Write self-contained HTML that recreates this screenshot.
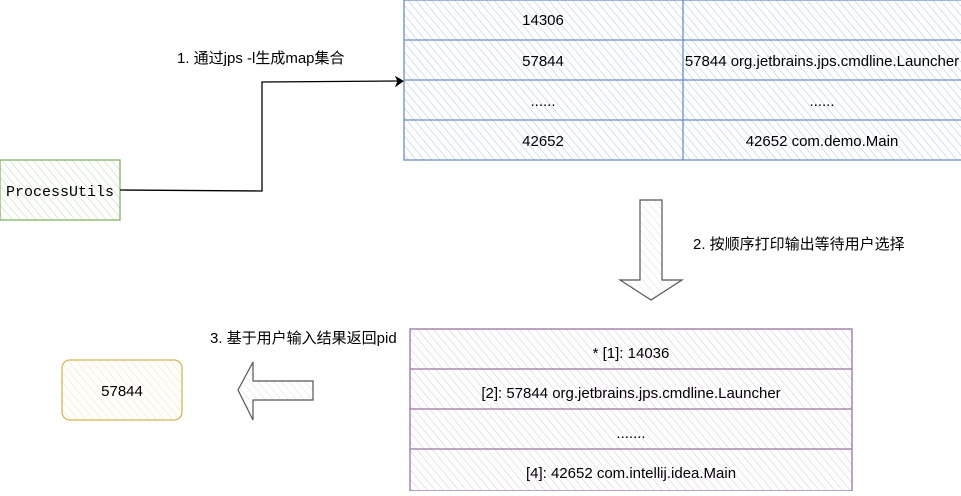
<!DOCTYPE html>
<html><head><meta charset="utf-8"><style>
body{margin:0;background:#fff;width:961px;height:491px;overflow:hidden}
svg text{font-family:"Liberation Sans","Noto Sans CJK SC",sans-serif;font-size:15px;fill:#000}
</style></head><body>
<svg width="961" height="491" xmlns="http://www.w3.org/2000/svg">
<defs>
<pattern id="hb" width="6" height="6" patternUnits="userSpaceOnUse" patternTransform="rotate(-40)"><line x1="0" y1="0" x2="0" y2="6" stroke="#a9c4eb" stroke-width="1"/></pattern>
<pattern id="hg" width="6" height="6" patternUnits="userSpaceOnUse" patternTransform="rotate(-40)"><line x1="0" y1="0" x2="0" y2="6" stroke="#b9e0a5" stroke-width="1"/></pattern>
<pattern id="hp" width="6" height="6" patternUnits="userSpaceOnUse" patternTransform="rotate(-40)"><line x1="0" y1="0" x2="0" y2="6" stroke="#d5c8e0" stroke-width="1"/></pattern>
<pattern id="hy" width="6" height="6" patternUnits="userSpaceOnUse" patternTransform="rotate(-40)"><line x1="0" y1="0" x2="0" y2="6" stroke="#f7e0a0" stroke-width="1"/></pattern>
<pattern id="hw" width="6" height="6" patternUnits="userSpaceOnUse" patternTransform="rotate(-40)"><line x1="0" y1="0" x2="0" y2="6" stroke="#ddd" stroke-width="1"/></pattern>
</defs>
<rect x="404" y="0" width="560" height="160" fill="url(#hb)" stroke="#6c8ebf" stroke-width="1.3"/>
<g stroke="#6c8ebf" stroke-width="1.3"><line x1="404" y1="40" x2="961" y2="40"/><line x1="404" y1="80" x2="961" y2="80"/><line x1="404" y1="120" x2="961" y2="120"/><line x1="683" y1="0" x2="683" y2="160"/></g>
<g text-anchor="middle"><text x="543" y="25">14306</text><text x="543" y="66">57844</text><text x="543" y="106">......</text><text x="543" y="146">42652</text>
<text x="822" y="66">57844 org.jetbrains.jps.cmdline.Launcher</text><text x="822" y="106">......</text><text x="822" y="146">42652 com.demo.Main</text></g>
<rect x="0" y="160" width="120" height="60" fill="url(#hg)" stroke="#82b366" stroke-width="1.3"/>
<text x="6" y="196" style="font-family:'Liberation Mono',monospace;font-size:15px">ProcessUtils</text>
<path d="M120 190 L262 191 L262 82 L398 81" fill="none" stroke="#000" stroke-width="1.3"/>
<path d="M403 81 L396 77 L398 81 L396 86 Z" fill="#000" stroke="#000"/>
<text x="177" y="63">1. 通过jps -l生成map集合</text>
<path d="M640 200 L662 200 L662 280 L682 280 L651 300 L620 280 L640 280 Z" fill="url(#hw)" stroke="#555" stroke-width="1.2"/>
<text x="693" y="249">2. 按顺序打印输出等待用户选择</text>
<rect x="410" y="329" width="442" height="162" fill="url(#hp)" stroke="#9673a6" stroke-width="1.3"/>
<g stroke="#9673a6" stroke-width="1.3"><line x1="410" y1="369" x2="852" y2="369"/><line x1="410" y1="409" x2="852" y2="409"/><line x1="410" y1="449" x2="852" y2="449"/></g>
<g text-anchor="middle"><text x="631" y="358">* [1]: 14036</text><text x="631" y="398">[2]: 57844 org.jetbrains.jps.cmdline.Launcher</text><text x="631" y="438">.......</text><text x="631" y="478">[4]: 42652 com.intellij.idea.Main</text></g>
<text x="210" y="343">3. 基于用户输入结果返回pid</text>
<path d="M313 381 L313 400 L253 400 L253 420 L238 390 L253 362 L253 381 Z" fill="url(#hw)" stroke="#555" stroke-width="1.2"/>
<rect x="62" y="360" width="120" height="60" rx="8" fill="url(#hy)" stroke="#d6b656" stroke-width="1.3"/>
<text x="122" y="396" text-anchor="middle">57844</text>
</svg>
</body></html>
